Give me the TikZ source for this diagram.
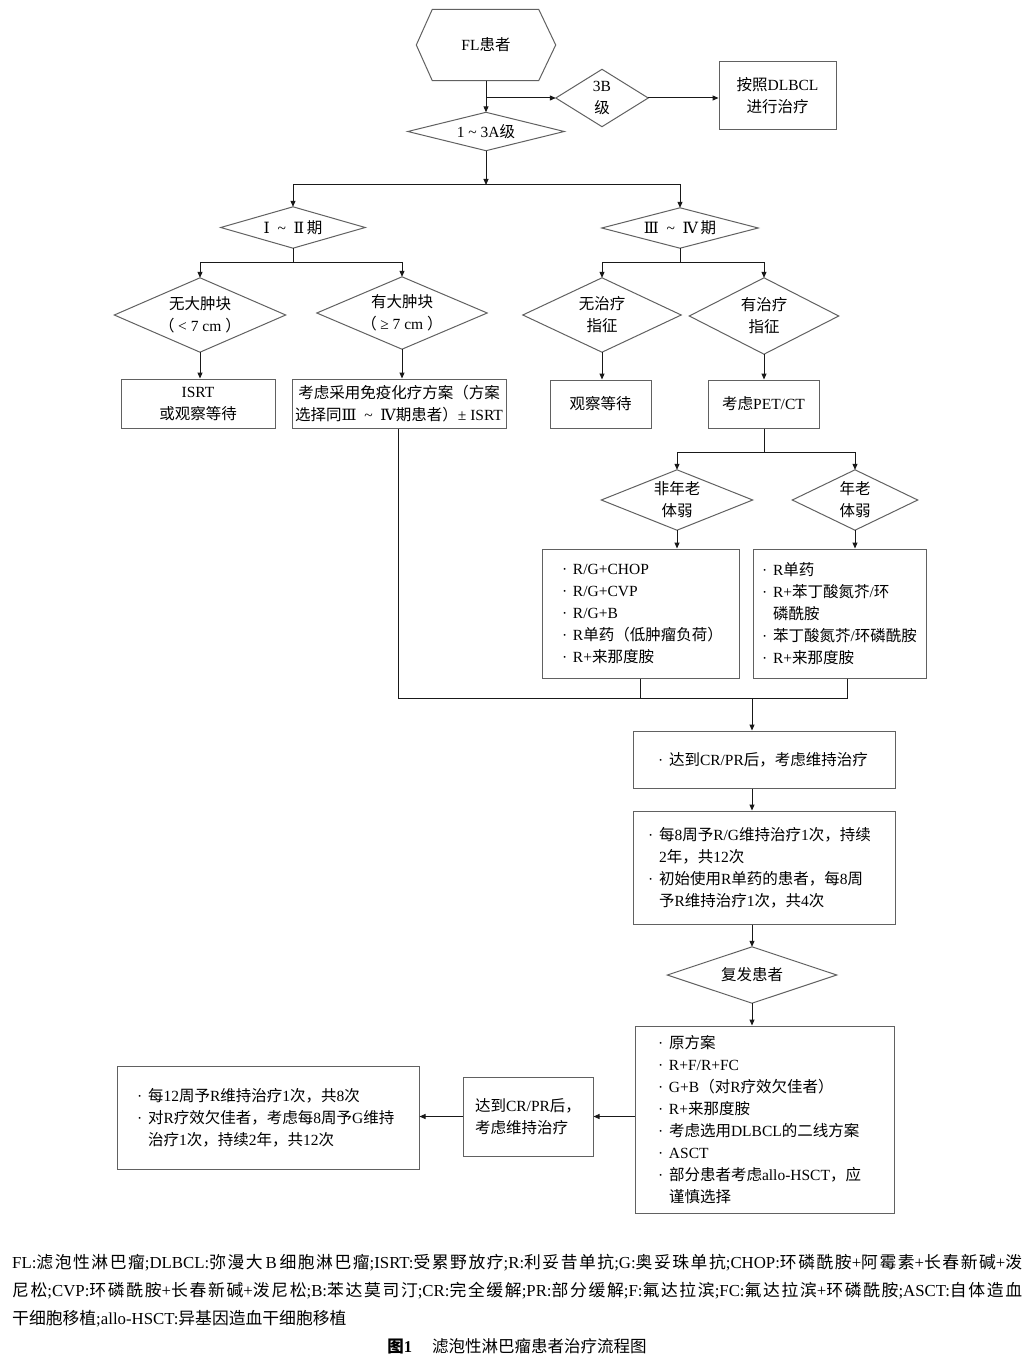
\documentclass[tikz,border=0pt]{standalone}
\usepackage{fontspec}
\setmainfont{Liberation Serif}
\newfontfamily\cjkf{Noto Sans CJK SC}
\newfontfamily\romf{DejaVu Serif}
\usetikzlibrary{arrows.meta,calc}
\newXeTeXintercharclass\cjkcls
\newcount\cjkcc
\def\setcjkrange#1#2{\cjkcc=#1\relax\loop\XeTeXcharclass\cjkcc=\cjkcls\advance\cjkcc by 1\relax\ifnum\cjkcc<#2\repeat}
\setcjkrange{"4E00}{"A000}
\setcjkrange{"3000}{"3040}
\setcjkrange{"FF00}{"FFF0}
\XeTeXinterchartokenstate=1
\XeTeXinterchartoks 0 \cjkcls = {\cjkf}
\XeTeXinterchartoks 4095 \cjkcls = {\cjkf}
\XeTeXinterchartoks \cjkcls 0 = {\rmfamily}
\XeTeXinterchartoks 4095 0 = {\rmfamily}
\newcommand\RN[1]{{\XeTeXinterchartokenstate=0 \romf #1}\rmfamily}
\newcommand\tl{\enspace\textasciitilde\enspace}
\newcommand\itm{\rmfamily\makebox[11pt][l]{·}}
\newcommand\ind{\rmfamily\hspace*{11pt}}
\definecolor{linec}{gray}{0.38}
\definecolor{conc}{gray}{0.1}
\tikzset{
  base/.style={font=\fontsize{15.5}{22}\selectfont, inner sep=0pt, align=center},
  box/.style={base, draw=linec, line width=1pt, rectangle},
  dia/.style={base, rectangle},
  dline/.style={draw=linec, line width=1pt},
  conn/.style={draw=conc, line width=1pt},
  arr/.style={conn, -{Triangle[length=6pt,width=5pt]}},
}
\begin{document}
\begin{tikzpicture}[x=1pt,y=-1pt]
\fill[white] (0,0) rectangle (1032,1364);
\useasboundingbox (0,0) rectangle (1032,1364);

% nodes
\node[dia, minimum width=139pt, minimum height=71pt] (fl) at (486,45) {FL患者};
\node[dia, minimum width=92pt, minimum height=57pt] (d3b) at (602,98) {3B\\级};
\node[box, minimum width=117pt, minimum height=68pt] (dl) at (777.5,96) {按照DLBCL\\进行治疗};
\node[dia, minimum width=156pt, minimum height=38pt] (d13) at (486,131.5) {1 \textasciitilde{} 3A级};
\node[dia, minimum width=144pt, minimum height=41pt] (d12) at (293,227.5) {\RN{Ⅰ}\tl\RN{Ⅱ}\,{\cjkf 期}};
\node[dia, minimum width=156pt, minimum height=40pt] (d34) at (680,228) {\RN{Ⅲ}\tl\RN{Ⅳ}\,{\cjkf 期}};
\node[dia, minimum width=171pt, minimum height=74pt] (dnb) at (200,315) {无大肿块\\（ < 7 cm ）};
\node[dia, minimum width=170pt, minimum height=72pt] (dbb) at (402,313) {有大肿块\\（ ≥ 7 cm ）};
\node[dia, minimum width=158pt, minimum height=74pt] (dnt) at (602,315) {无治疗\\指征};
\node[dia, minimum width=149pt, minimum height=76pt] (dyt) at (764,316) {有治疗\\指征};
\node[box, minimum width=154pt, minimum height=49pt] (bisrt) at (198,403.5) {ISRT\\或观察等待};
\node[box, minimum width=214pt, minimum height=49pt] (bimm) at (399,403.5) {考虑采用免疫化疗方案（方案\\选择同\RN{Ⅲ}\tl\RN{Ⅳ}{\cjkf 期患者）}± ISRT};
\node[box, minimum width=101pt, minimum height=48pt] (bobs) at (600.5,404) {观察等待};
\node[box, minimum width=111pt, minimum height=48pt] (bpet) at (763.5,404) {考虑PET/CT};
\node[dia, minimum width=151pt, minimum height=60pt] (dny) at (677,500) {非年老\\体弱};
\node[dia, minimum width=125pt, minimum height=60pt] (dold) at (855,500) {年老\\体弱};
\node[box, align=left, text width=157pt, inner xsep=20pt, minimum height=129pt] (bl1) at (640.5,613.5)
  {\itm R/G+CHOP\\\itm R/G+CVP\\\itm R/G+B\\\itm R单药（低肿瘤负荷）\\\itm R+来那度胺};
\node[box, align=left, text width=155pt, inner xsep=9pt, minimum height=129pt] (bl2) at (839.5,613.5)
  {\itm R单药\\\itm R+苯丁酸氮芥/环\\\ind 磷酰胺\\\itm 苯丁酸氮芥/环磷酰胺\\\itm R+来那度胺};
\node[box, align=left, text width=212pt, inner xsep=25pt, minimum height=57pt] (bcr) at (764,759.5)
  {\itm 达到CR/PR后，考虑维持治疗};
\node[box, align=left, text width=232pt, inner xsep=15pt, minimum height=113pt] (bm) at (764,867.5)
  {\itm 每8周予R/G维持治疗1次，持续\\\ind 2年，共12次\\\itm 初始使用R单药的患者，每8周\\\ind 予R维持治疗1次，共4次};
\node[dia, minimum width=169pt, minimum height=56pt] (drel) at (752,975) {复发患者};
\node[box, align=left, text width=213pt, inner xsep=23pt, minimum height=187pt] (brel) at (764.5,1119.5)
  {\itm 原方案\\\itm R+F/R+FC\\\itm G+B（对R疗效欠佳者）\\\itm R+来那度胺\\\itm 考虑选用DLBCL的二线方案\\\itm ASCT\\\itm 部分患者考虑allo-HSCT，应\\\ind 谨慎选择};
\node[box, align=left, minimum width=130pt, minimum height=79pt] (bcr2) at (528,1116.5)
  {达到CR/PR后，\\考虑维持治疗};
\node[box, align=left, text width=262pt, inner xsep=20pt, minimum height=103pt] (b12) at (268,1117.5)
  {\itm 每12周予R维持治疗1次，共8次\\\itm 对R疗效欠佳者，考虑每8周予G维持\\\ind 治疗1次，持续2年，共12次};

% hexagon and diamonds
\draw[dline] (fl.west) -- ([xshift=16pt]fl.north west) -- ([xshift=-17pt]fl.north east) -- (fl.east)
  -- ([xshift=-17pt]fl.south east) -- ([xshift=16pt]fl.south west) -- cycle;
\foreach \n in {d3b,d13,d12,d34,dnb,dbb,dnt,dyt,dny,dold,drel}
  \draw[dline] (\n.north) -- (\n.east) -- (\n.south) -- (\n.west) -- cycle;

% connectors
\coordinate (j1) at (486,98);
\draw[conn] (fl.south) -- (j1);
\draw[arr] (j1) -- (d13.north);
\draw[arr] (j1) -- (d3b.west);
\draw[arr] (d3b.east) -- (d3b.east -| dl.west);
\coordinate (j2) at (486,185);
\draw[arr] (d13.south) -- (j2);
\draw[arr] (j2) -| (d12.north);
\draw[arr] (j2) -| (d34.north);
\coordinate (j3) at (293,262);
\draw[conn] (d12.south) -- (j3);
\draw[arr] (j3) -| (dnb.north);
\draw[arr] (j3) -| (dbb.north);
\draw[arr] (dnb.south) -- (dnb.south |- bisrt.north);
\draw[arr] (dbb.south) -- (dbb.south |- bimm.north);
\coordinate (j4) at (680,262);
\draw[conn] (d34.south) -- (j4);
\draw[arr] (j4) -| (dnt.north);
\draw[arr] (j4) -| (dyt.north);
\draw[arr] (dnt.south) -- (dnt.south |- bobs.north);
\draw[arr] (dyt.south) -- (dyt.south |- bpet.north);
\coordinate (j5) at (764,452);
\draw[conn] (bpet.south -| j5) -- (j5);
\draw[arr] (j5) -| (dny.north);
\draw[arr] (j5) -| (dold.north);
\draw[arr] (dny.south) -- (dny.south |- bl1.north);
\draw[arr] (dold.south) -- (dold.south |- bl2.north);
\coordinate (j6) at (752,698);
\draw[conn] ([xshift=-1pt]bimm.south) |- (j6);
\draw[conn] (bl1.south) |- (j6);
\draw[conn] ([xshift=7.5pt]bl2.south) |- (j6);
\draw[arr] (j6) -- (j6 |- bcr.north);
\draw[arr] (bcr.south -| j6) -- (bm.north -| j6);
\draw[arr] (bm.south -| j6) -- (drel.north);
\draw[arr] (drel.south) -- (drel.south |- brel.north);
\draw[arr] (brel.west |- bcr2.east) -- (bcr2.east);
\draw[arr] (bcr2.west) -- (bcr2.west -| b12.east);

% footnote and caption
\node[inner sep=0pt, anchor=north west, text width=1010pt, align=justify,
  font=\fontsize{16.8}{28}\selectfont] (fn) at (12,1254)
  {\XeTeXlinebreaklocale "zh"\XeTeXlinebreakskip=0pt plus 3pt\relax
   FL:滤泡性淋巴瘤;DLBCL:弥漫大\,B\,细胞淋巴瘤;ISRT:受累野放疗;R:利妥昔单抗;G:奥妥珠单抗;CHOP:环磷酰胺+阿霉素+长春新碱+泼\linebreak
   尼松;CVP:环磷酰胺+长春新碱+泼尼松;B:苯达莫司汀;CR:完全缓解;PR:部分缓解;F:氟达拉滨;FC:氟达拉滨+环磷酰胺;ASCT:自体造血\linebreak
   干细胞移植;allo-HSCT:异基因造血干细胞移植};
\node[inner sep=0pt, anchor=base, font=\fontsize{16.5}{20}\selectfont] (cap) at (517,1352)
  {{\bfseries 图1}\hspace{1.2em}滤泡性淋巴瘤患者治疗流程图};
\end{tikzpicture}
\end{document}
